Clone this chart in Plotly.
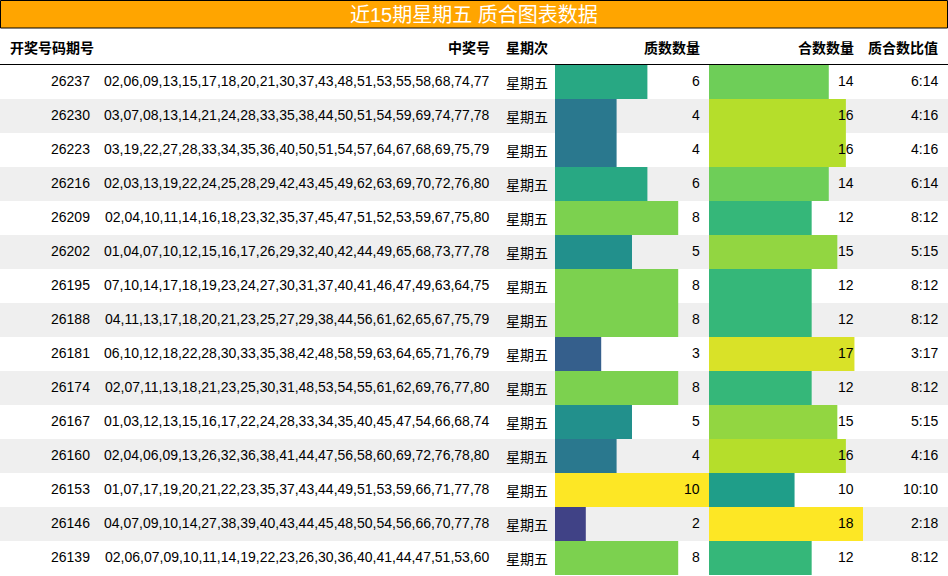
import plotly.graph_objects as go
from plotly.colors import sample_colorscale

issues = ["26237","26230","26223","26216","26209","26202","26195","26188","26181","26174","26167","26160","26153","26146","26139"]
draws = [
"02,06,09,13,15,17,18,20,21,30,37,43,48,51,53,55,58,68,74,77",
"03,07,08,13,14,21,24,28,33,35,38,44,50,51,54,59,69,74,77,78",
"03,19,22,27,28,33,34,35,36,40,50,51,54,57,64,67,68,69,75,79",
"02,03,13,19,22,24,25,28,29,42,43,45,49,62,63,69,70,72,76,80",
"02,04,10,11,14,16,18,23,32,35,37,45,47,51,52,53,59,67,75,80",
"01,04,07,10,12,15,16,17,26,29,32,40,42,44,49,65,68,73,77,78",
"07,10,14,17,18,19,23,24,27,30,31,37,40,41,46,47,49,63,64,75",
"04,11,13,17,18,20,21,23,25,27,29,38,44,56,61,62,65,67,75,79",
"06,10,12,18,22,28,30,33,35,38,42,48,58,59,63,64,65,71,76,79",
"02,07,11,13,18,21,23,25,30,31,48,53,54,55,61,62,69,76,77,80",
"01,03,12,13,15,16,17,22,24,28,33,34,35,40,45,47,54,66,68,74",
"02,04,06,09,13,26,32,36,38,41,44,47,56,58,60,69,72,76,78,80",
"01,07,17,19,20,21,22,23,35,37,43,44,49,51,53,59,66,71,77,78",
"04,07,09,10,14,27,38,39,40,43,44,45,48,50,54,56,66,70,77,78",
"02,06,07,09,10,11,14,19,22,23,26,30,36,40,41,44,47,51,53,60",
]
weekday = ["星期五"] * 15
primes = [6,4,4,6,8,5,8,8,3,8,5,4,10,2,8]
composites = [14,16,16,14,12,15,12,12,17,12,15,16,10,18,12]
headers = ["开奖号码期号", "中奖号", "星期次", "质数数量", "合数数量", "质合数比值"]
title = "近15期星期五 质合图表数据"

FONT = "Liberation Sans, Noto Sans CJK SC, sans-serif"
W, H = 948, 576
TOP = 65
RH = 34
P0, PW = 555, 154
C0, CW = 709, 154

def colors(vals):
    hi = max(vals)
    return sample_colorscale("Viridis", [v / hi for v in vals])

yc = [TOP + RH * (i + 0.5) for i in range(len(issues))]
fig = go.Figure()
shapes = []
for i in range(len(issues)):
    if i % 2 == 1:
        shapes.append(dict(type="rect", xref="x", yref="y", x0=0, x1=W, y0=TOP + RH * i, y1=TOP + RH * (i + 1),
                           fillcolor="#efefef", line_width=0, layer="below"))
shapes.append(dict(type="rect", xref="x", yref="y", x0=0.5, x1=W - 0.5, y0=0.5, y1=28,
                   fillcolor="#FFA500", line=dict(color="black", width=1)))
shapes.append(dict(type="line", xref="x", yref="y", x0=0, x1=W, y0=TOP - 0.5, y1=TOP - 0.5,
                   line=dict(color="black", width=1)))

fig.add_bar(y=yc, x=[p * PW / max(primes) for p in primes], base=P0, orientation="h", width=RH,
            marker=dict(color=colors(primes), line_width=0), hoverinfo="skip")
fig.add_bar(y=yc, x=[c * CW / max(composites) for c in composites], base=C0, orientation="h", width=RH,
            marker=dict(color=colors(composites), line_width=0), hoverinfo="skip")

ann = []
def t(x, y, s, anchor, size=14, bold=False, color="black"):
    ann.append(dict(x=x, y=y, xref="x", yref="y", text=f"<b>{s}</b>" if bold else s, showarrow=False,
                    xanchor=anchor, yanchor="middle", font=dict(family=FONT, size=size, color=color)))

t(W / 2, 15, title, "center", size=20, color="white")
hy = 48
t(8, hy, headers[0], "left", bold=True)
t(492, hy, headers[1], "right", bold=True)
t(527, hy, headers[2], "center", bold=True)
t(702, hy, headers[3], "right", bold=True)
t(856, hy, headers[4], "right", bold=True)
t(940, hy, headers[5], "right", bold=True)
for i in range(len(issues)):
    y = yc[i] - 1
    t(92, y, issues[i], "right")
    t(492, y, draws[i], "right")
    t(527, y + 2, weekday[i], "center")
    t(702, y, str(primes[i]), "right")
    t(856, y, str(composites[i]), "right")
    t(940, y, f"{primes[i]}:{composites[i]}", "right")

fig.update_layout(width=W, height=H, margin=dict(l=0, r=0, t=0, b=0), showlegend=False,
                  plot_bgcolor="white", paper_bgcolor="white", barmode="overlay",
                  shapes=shapes, annotations=ann,
                  xaxis=dict(range=[0, W], visible=False, fixedrange=True),
                  yaxis=dict(range=[H, 0], visible=False, fixedrange=True))
fig.write_html("out.html", config={"displayModeBar": False},
               post_script="document.body.style.margin='0';document.body.style.overflow='hidden';")
